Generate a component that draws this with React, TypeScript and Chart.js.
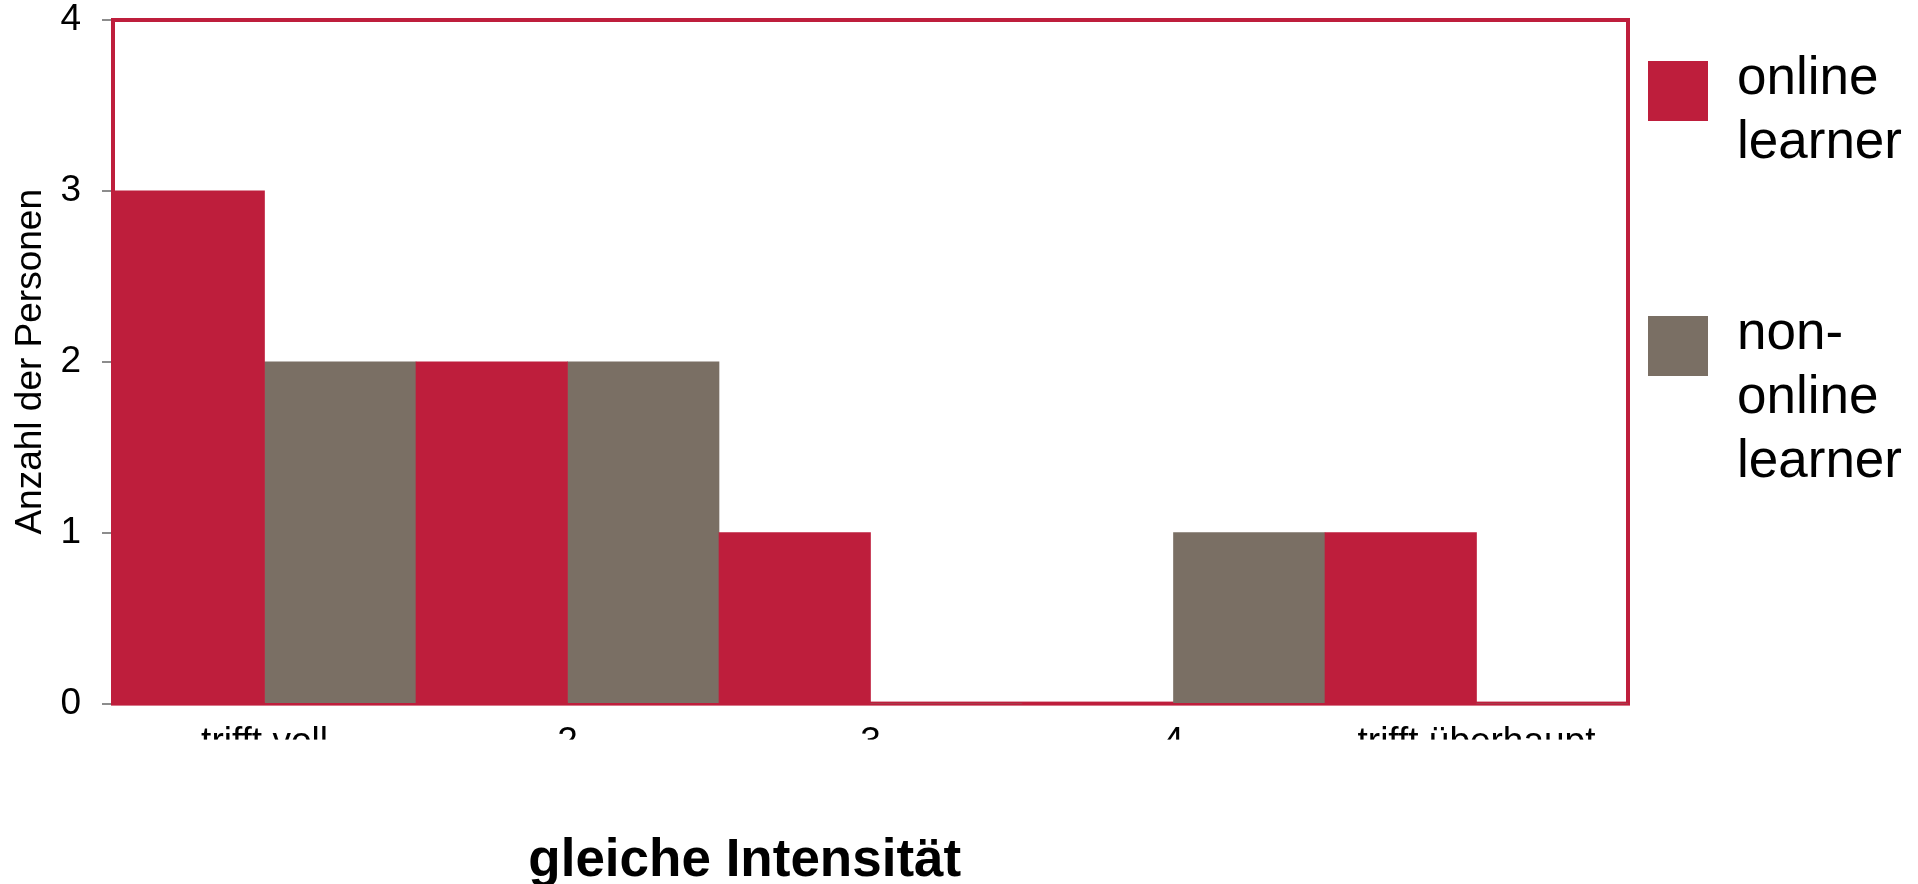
import React, { useEffect, useRef } from "react";
import { Chart, registerables } from "chart.js";

Chart.register(...registerables);

// ---- data ----
const categories = ["trifft voll", "2", "3", "4", "trifft überhaupt"];
const onlineValues = [3, 2, 1, 0, 1];
const nonOnlineValues = [2, 2, 0, 1, 0];
const seriesLabels = ["online learner", "non-online learner"];
const legendLines = [
  ["online", "learner"],
  ["non-", "online", "learner"],
];
const yMin = 0;
const yMax = 4;
const yStep = 1;
const yAxisTitle = "Anzahl der Personen";
const chartTitle = "gleiche Intensität";

// ---- styles ----
const RED = "#BE1E3C";
const GRAY = "#7A6F64";
const AXIS_GRAY = "#8c8c8c";
const FONT = "'Liberation Sans', Arial, Helvetica, sans-serif";

const plotBorder = {
  id: "plotBorder",
  beforeDatasetsDraw(chart: any) {
    const { ctx, chartArea: a } = chart;
    ctx.save();
    ctx.strokeStyle = RED;
    ctx.lineWidth = 4;
    ctx.strokeRect(a.left, a.top, a.right - a.left, a.bottom - a.top);
    ctx.restore();
  },
};

const decor = {
  id: "decor",
  afterDraw(chart: any) {
    const { ctx, chartArea: a, width } = chart;
    ctx.save();
    // the category labels are cut off below their upper half in the reference
    ctx.fillStyle = "#ffffff";
    ctx.fillRect(0, a.bottom + 36, width, 70);

    // bottom title
    ctx.fillStyle = "#000000";
    ctx.font = `bold 53px ${FONT}`;
    ctx.textAlign = "center";
    ctx.textBaseline = "alphabetic";
    ctx.fillText(chartTitle, a.left + (a.right - a.left) * 0.417, a.bottom + 172);

    // legend
    const datasets = chart.data.datasets;
    ctx.font = `53px ${FONT}`;
    ctx.textAlign = "left";
    datasets.forEach((ds: any, i: number) => {
      const sqTop = a.top + 41 + i * 255;
      ctx.fillStyle = ds.backgroundColor;
      ctx.fillRect(a.right + 20, sqTop, 60, 60);
      ctx.fillStyle = "#000000";
      legendLines[i].forEach((line, k) => {
        ctx.fillText(line, a.right + 109, sqTop + 33 + k * 64);
      });
    });
    ctx.restore();
  },
};

export default function App() {
  const canvasRef = useRef<HTMLCanvasElement | null>(null);

  useEffect(() => {
    if (!canvasRef.current) return;
    const chart = new Chart(canvasRef.current, {
      type: "bar",
      data: {
        labels: categories,
        datasets: [
          {
            label: seriesLabels[0],
            data: onlineValues,
            backgroundColor: RED,
            borderWidth: 0,
            categoryPercentage: 1,
            barPercentage: 1,
          },
          {
            label: seriesLabels[1],
            data: nonOnlineValues,
            backgroundColor: GRAY,
            borderWidth: 0,
            categoryPercentage: 1,
            barPercentage: 1,
          },
        ],
      },
      options: {
        animation: false,
        responsive: false,
        devicePixelRatio: 1,
        layout: { padding: { left: 7, right: 290, top: 0, bottom: 102 } },
        plugins: {
          legend: { display: false },
          tooltip: { enabled: false },
          title: { display: false },
        },
        scales: {
          x: {
            grid: { display: false, drawTicks: false },
            border: { display: false },
            ticks: {
              color: "#000000",
              font: { family: FONT, size: 37 },
              padding: 17,
              autoSkip: false,
              maxRotation: 0,
              minRotation: 0,
            },
          },
          y: {
            min: yMin,
            max: yMax,
            z: 1,
            afterFit: (scale: any) => {
              scale.width = 106;
              scale.paddingTop = 20;
            },
            ticks: {
              stepSize: yStep,
              color: "#000000",
              font: { family: FONT, size: 37 },
              padding: 21,
            },
            grid: {
              drawOnChartArea: false,
              drawTicks: true,
              tickLength: 11,
              color: AXIS_GRAY,
              lineWidth: 2,
            },
            border: { display: true, color: AXIS_GRAY, width: 2 },
            title: {
              display: true,
              text: yAxisTitle,
              color: "#000000",
              font: { family: FONT, size: 37 },
              padding: { top: 2, bottom: 4 },
            },
          },
        },
      },
      plugins: [plotBorder, decor],
    });
    return () => chart.destroy();
  }, []);

  return (
    <div style={{ position: "absolute", left: 0, top: 0, width: 1918, height: 884, background: "#ffffff" }}>
      <canvas ref={canvasRef} width={1918} height={884} style={{ display: "block" }} />
    </div>
  );
}
